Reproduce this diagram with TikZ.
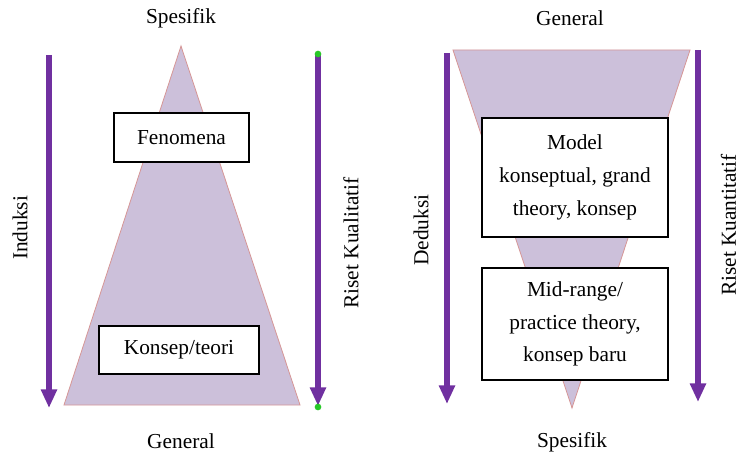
\documentclass[tikz,border=0pt]{standalone}
\usepackage{fontspec}
\setmainfont{Liberation Serif}
\usetikzlibrary{arrows.meta}
\definecolor{pyrfill}{RGB}{204,192,218}
\definecolor{pyredge}{RGB}{214,150,150}
\definecolor{flow}{RGB}{112,48,160}
\definecolor{handle}{RGB}{40,200,40}
\tikzset{
  lbl/.style={font=\fontsize{16}{19}\selectfont, inner sep=0pt},
  sidelbl/.style={lbl, rotate=90},
  concept/.style={draw=black, line width=1.1pt, fill=white, font=\fontsize{16}{24.5}\selectfont,
    align=center, inner sep=0pt},
  pyramid/.style={fill=pyrfill, draw=pyredge, line width=0.6pt},
  flowarrow/.style={draw=flow, line width=3.8pt, -{Triangle[width=11.5pt,length=14pt]}},
  dot/.style={circle, fill=handle, inner sep=0pt, minimum size=5pt}
}
\begin{document}
\begin{tikzpicture}[x=0.75pt, y=-0.75pt]
\useasboundingbox (0,0) rectangle (740,456);

% ---------- left panel: induction ----------
\coordinate (tA) at (181,46);
\coordinate (tL) at (64,405);
\coordinate (tR) at (300,405);
\path[pyramid] (tA) -- (tL) -- (tR) -- cycle;

\node[concept, minimum width=101.25pt, minimum height=36.75pt] (fen) at (181.5,137.5) {Fenomena};
\node[concept, minimum width=120pt, minimum height=36pt] (kon) at (179,350) {Konsep/teori};

\node[lbl] (spesA) at (181,18) {Spesifik};
\node[lbl] (genA) at (181,441) {General};

\coordinate (indS) at (49,55);
\coordinate (indE) at (49,408);
\draw[flowarrow] (indS) -- (indE);
\node[sidelbl] (ind) at (20,228) {Induksi};

\coordinate (kuaS) at (318,54);
\coordinate (kuaE) at (318,406);
\draw[flowarrow] (kuaS) -- (kuaE);
\node[dot] (h1) at (kuaS) {};
\node[dot] (h2) at (318,407) {};
\node[sidelbl] (kua) at (351,243) {Riset Kualitatif};

% ---------- right panel: deduction ----------
\coordinate (vL) at (453,50);
\coordinate (vR) at (690,50);
\coordinate (vB) at (572,408);
\path[pyramid] (vL) -- (vR) -- (vB) -- cycle;

\node[concept, minimum width=139.5pt, minimum height=89.25pt] (model) at (575,177.5)
  {Model\\konseptual, grand\\theory, konsep};
\node[concept, minimum width=139.5pt, minimum height=84pt] (mid) at (575,324)
  {Mid-range/\\practice theory,\\konsep baru};

\node[lbl] (genB) at (570,18) {General};
\node[lbl] (spesB) at (572,442) {Spesifik};

\coordinate (dedS) at (447,53);
\coordinate (dedE) at (447,404);
\draw[flowarrow] (dedS) -- (dedE);
\node[sidelbl] (ded) at (421,230) {Deduksi};

\coordinate (kunS) at (698,50);
\coordinate (kunE) at (698,402);
\draw[flowarrow] (kunS) -- (kunE);
\node[sidelbl] (kun) at (728.5,225) {Riset Kuantitatif};
\end{tikzpicture}
\end{document}
